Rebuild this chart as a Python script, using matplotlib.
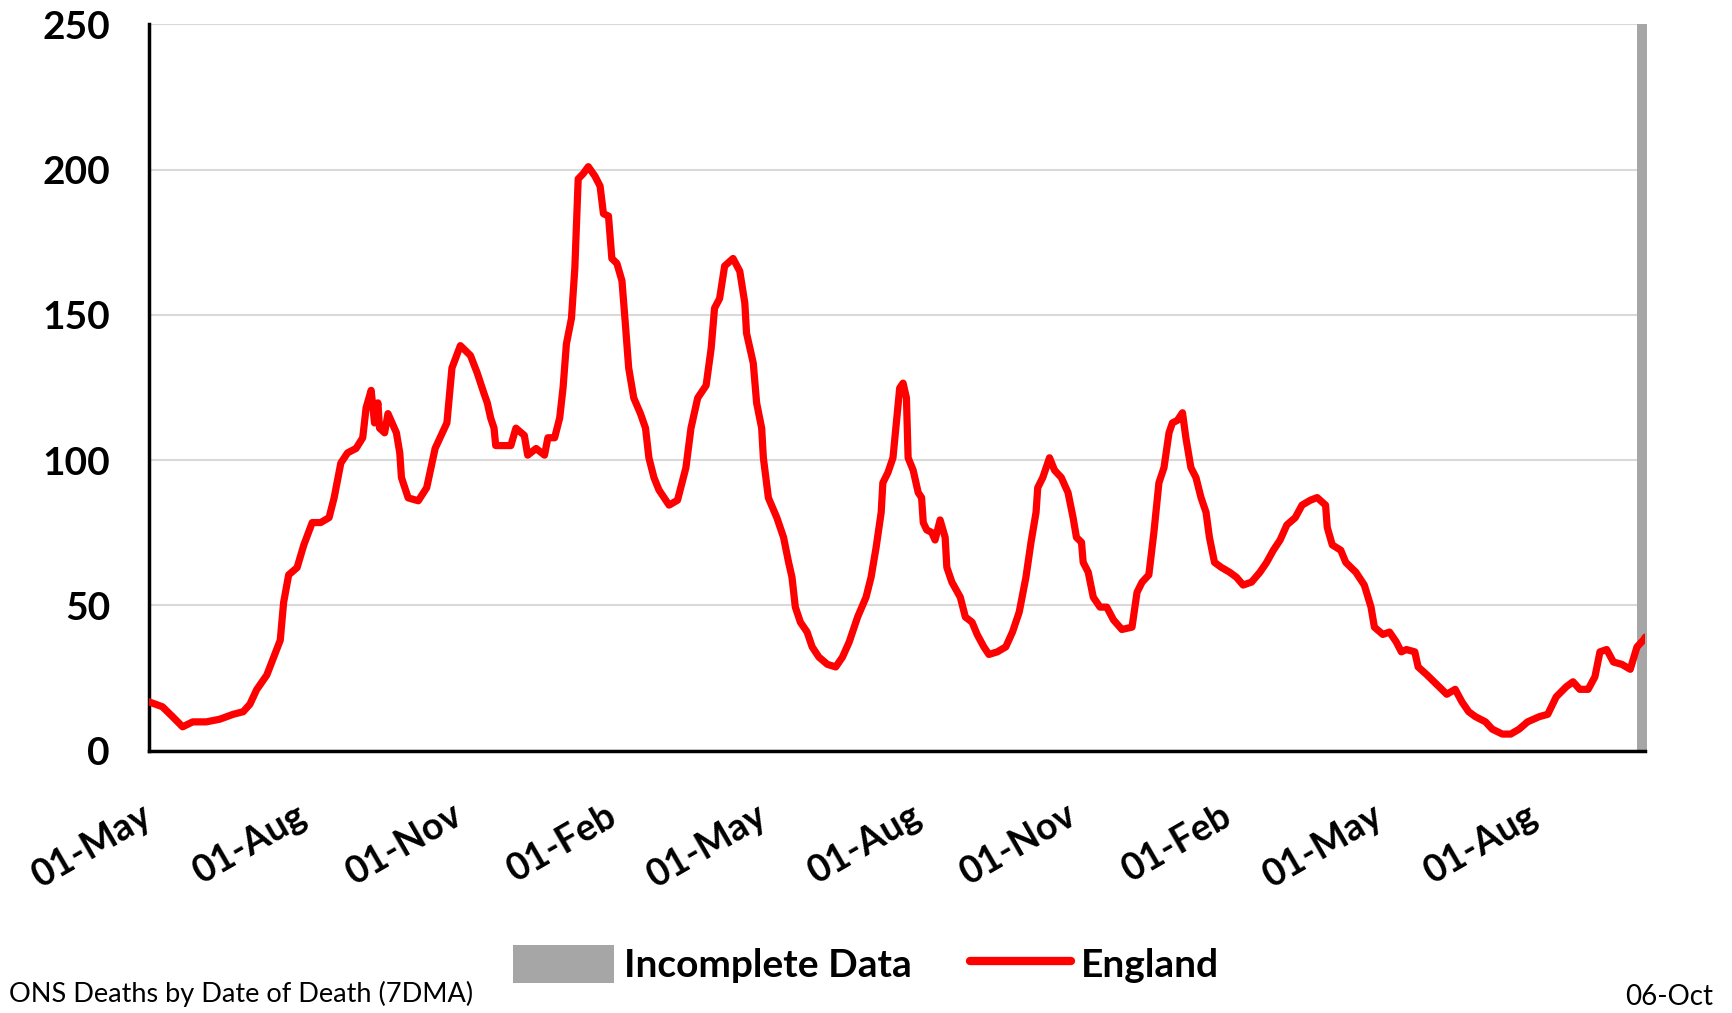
import pandas as pd
import matplotlib.pyplot as plt
from matplotlib.patches import Patch
from matplotlib.lines import Line2D

plt.rcParams['font.family'] = ['Lato', 'DejaVu Sans']

# ONS deaths by date of death, England, 7 day moving average
start = '2022-05-01'
day = [0, 8, 14, 20, 26, 34, 42, 50, 56, 60, 64, 70, 74, 78, 80, 83, 88, 92, 97, 102,
       107, 110, 114, 118, 123, 127, 129, 132, 134, 136, 137, 140, 142, 147, 149, 150, 154, 160, 165, 170,
       177, 180, 185, 191, 195, 199, 201, 203, 205, 206, 210, 215, 218, 223, 225, 230, 235, 237, 241, 244,
       246, 248, 251, 253, 255, 258, 261, 265, 268, 270, 273, 275, 278, 281, 283, 285, 288, 292, 295, 297,
       300, 303, 309, 314, 319, 322, 326, 331, 334, 336, 339, 342, 347, 351, 354, 355, 359, 361, 364, 365,
       368, 373, 377, 380, 382, 384, 387, 391, 394, 398, 403, 408, 412, 416, 421, 426, 429, 432, 435, 436,
       439, 442, 444, 446, 448, 450, 451, 454, 457, 459, 460, 462, 465, 467, 470, 473, 474, 477, 482, 485,
       489, 492, 496, 499, 504, 509, 513, 517, 521, 524, 527, 528, 531, 535, 538, 542, 546, 549, 551, 554,
       555, 558, 561, 565, 569, 573, 578, 584, 587, 590, 594, 597, 600, 603, 606, 608, 611, 614, 616, 619,
       622, 625, 628, 630, 633, 637, 642, 646, 650, 655, 660, 664, 668, 672, 676, 681, 685, 690, 694, 699,
       700, 703, 708, 711, 717, 722, 726, 728, 733, 737, 741, 744, 747, 752, 754, 759, 765, 771, 776, 780,
       784, 788, 794, 798, 804, 809, 814, 819, 826, 831, 836, 842, 846, 850, 855, 859, 862, 866, 870, 875,
       880, 884, 888, 889]
deaths = [16.8, 15.1, 11.7, 8.2, 9.9, 9.9, 10.8, 12.5, 13.4, 16, 21, 26, 32, 38, 51, 60.5, 63, 70.8, 78.5, 78.5,
          80.2, 87, 99, 102.5, 104, 107.7, 118, 124, 112.8, 119.7, 111, 109.4, 116, 109.4, 102.5, 94, 87, 86, 90.5, 104,
          112.8, 131.7, 139.4, 136, 130, 123, 119.7, 114.5, 111, 105, 105, 105, 111, 108.5, 101.7, 104, 101.7, 107.7, 107.7, 114.5,
          124.8, 140, 148.8, 166, 196.8, 198.6, 201, 197.7, 194.3, 184.8, 184, 169.4, 167.7, 161.7, 147, 131.7, 121.4, 116, 111, 100.8,
          94, 89.7, 84.5, 86.2, 97.4, 111, 121.4, 125.7, 138.5, 152.3, 155.6, 166.8, 169.4, 165, 154, 143.7, 133.4, 119.7, 111, 100.8,
          87, 80.2, 73.4, 64.8, 59.7, 49.4, 44.2, 40.8, 35.7, 32.2, 29.7, 28.8, 32.2, 37.4, 46, 52.8, 59.7, 70, 82, 92.2,
          95.7, 100.8, 112.8, 124.8, 126.5, 121.4, 100.8, 96.5, 88.8, 87.1, 78.5, 76, 75.1, 72.5, 79.4, 73.4, 63.1, 58, 52.8, 46,
          44.2, 40, 35.7, 33.1, 34, 35.7, 40.8, 47.7, 59.7, 71.7, 82, 90.5, 94, 100.8, 96.5, 94, 88.8, 80.2, 73.4, 71.7,
          64.8, 61.4, 52.8, 49.4, 49.4, 45, 41.7, 42.5, 54.5, 58, 60.5, 75.1, 92.2, 97.4, 109.4, 112.8, 113.7, 116.3, 107.7, 97.4,
          94, 87.1, 82, 73.4, 64.8, 63.1, 61.4, 59.7, 57, 58, 61.4, 64.8, 69, 72.5, 77.7, 80.2, 84.5, 86.2, 87.1, 84.5,
          76.8, 70.8, 69, 64.8, 61.4, 57, 49.4, 42.5, 40, 40.8, 37.4, 34, 34.8, 34, 28.8, 26.2, 22.8, 19.4, 21.1, 16.8,
          13.4, 11.7, 9.9, 7.4, 5.7, 5.7, 7.4, 9.9, 11.7, 12.5, 18.5, 22, 23.7, 21.1, 21.1, 25.4, 34, 34.8, 30.5, 29.7,
          28, 35.7, 38.2, 39.1]
tick_dates = ['2022-05-01', '2022-08-01', '2022-11-01', '2023-02-01', '2023-05-01',
              '2023-08-01', '2023-11-01', '2024-02-01', '2024-05-01', '2024-08-01']
incomplete = ['2024-10-01', '2024-10-07']
y_ticks = [0, 50, 100, 150, 200, 250]
source = 'ONS Deaths by Date of Death (7DMA)'
last_date = '06-Oct'

dates = pd.Timestamp(start) + pd.to_timedelta(day, unit='D')
red = '#FF0000'
grey = '#A6A6A6'

fig = plt.figure(figsize=(17.32, 10.13), dpi=100)
ax = fig.add_axes([0.086, 0.259, 0.864, 0.717])

ax.axvspan(pd.Timestamp(incomplete[0]), pd.Timestamp(incomplete[1]), color=grey, lw=0, zorder=2, clip_on=False)
ax.plot(dates, deaths, color=red, lw=5.2, solid_joinstyle='round', solid_capstyle='round', zorder=3)

ax.set_xlim(pd.Timestamp(start), dates[-1])
ax.set_ylim(0, 250)
ax.set_yticks(y_ticks)
ax.yaxis.grid(True, color='#D9D9D9', lw=1.5)
ax.set_axisbelow(True)

ax.set_xticks(pd.to_datetime(tick_dates))
ax.set_xticklabels([pd.Timestamp(d).strftime('%d-%b') for d in tick_dates],
                   rotation=30, ha='right', va='center', rotation_mode='anchor',
                   fontsize=27, fontweight='bold')
for lab in ax.get_yticklabels():
    lab.set_fontweight('bold')
ax.tick_params(axis='y', length=0, pad=28, labelsize=28)
ax.tick_params(axis='x', length=0, pad=45)

for s in ['top', 'right']:
    ax.spines[s].set_visible(False)
for s in ['left', 'bottom']:
    ax.spines[s].set_linewidth(2.5)
    ax.spines[s].set_color('black')

handles = [Patch(facecolor=grey, edgecolor='none', label='Incomplete Data'),
           Line2D([0], [0], color=red, lw=6, solid_capstyle='round', label='England')]
fig.legend(handles=handles, loc='center', bbox_to_anchor=(0.5, 0.048), ncol=2, frameon=False,
           prop={'size': 28, 'weight': 'bold'}, handlelength=2.6, handleheight=1.1,
           handletextpad=0.25, columnspacing=1.5)

fig.text(0.005, 0.019, source, fontsize=19.5, ha='left', va='center')
fig.text(0.989, 0.016, last_date, fontsize=20, ha='right', va='center')

fig.savefig('out.png', dpi=100)
